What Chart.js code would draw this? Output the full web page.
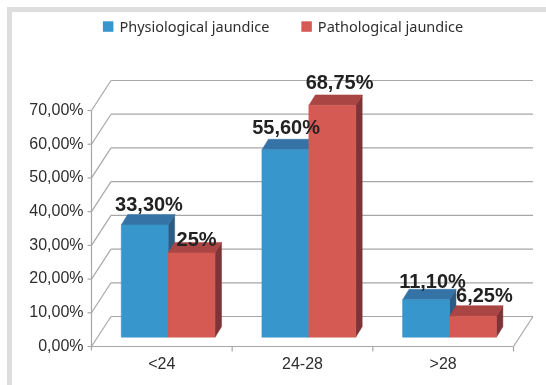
<!DOCTYPE html>
<html>
<head>
<meta charset="utf-8">
<script src="https://cdn.jsdelivr.net/npm/chart.js@4.4.1/dist/chart.umd.min.js"></script>
<style>
  html, body { margin: 0; padding: 0; background: #ffffff; }
  #c { display: block; }
</style>
</head>
<body>
<canvas id="c" width="546" height="385"></canvas>
<script>
// Jaundice type by gestational age group
const categories = ['<24', '24-28', '>28'];
const seriesNames = ['Physiological jaundice', 'Pathological jaundice'];
const physiological = [33.3, 55.6, 11.1];
const pathological = [25, 68.75, 6.25];
const physiologicalLabels = ['33,30%', '55,60%', '11,10%'];
const pathologicalLabels = ['25%', '68,75%', '6,25%'];
const yTickLabels = ['0,00%', '10,00%', '20,00%', '30,00%', '40,00%', '50,00%', '60,00%', '70,00%'];

// face colours: front, top, side
const palette = [
  { front: '#3797cd', top: '#3573a6', side: '#2c5b84' },
  { front: '#d65a54', top: '#a94543', side: '#7e3436' }
];

// oblique projection of the box: full depth of the walls, bar plane offset, bar depth
const DEPTH = { dx: 19.5, dy: -30 };
const BAR_SHIFT = { dx: 6.3, dy: -9.3 };
const BAR_DEPTH = { dx: 6.5, dy: -10.5 };
const GRID = '#a7a7a7';
const LEGEND_CX = 283;

// small per-label position tweaks [dx, dy]
const labelNudge = [
  [[-0.7, -1], [-4.3, -3], [1.5, 1.3]],
  [[0, 6], [2.3, -3], [6.5, -1]]
];

const box3d = {
  id: 'box3d',
  beforeDraw(chart) {
    const ctx = chart.ctx;
    ctx.save();
    ctx.fillStyle = '#ffffff';
    ctx.fillRect(0, 0, chart.width, chart.height);
    ctx.fillStyle = '#dedede';
    ctx.fillRect(7, 7, chart.width - 7, 5);
    ctx.fillRect(7, 7, 5, chart.height - 7);
    ctx.restore();
  },
  beforeDatasetsDraw(chart) {
    const ctx = chart.ctx;
    const { left: L, right: R, top: T, bottom: B } = chart.chartArea;
    const ys = chart.scales.y;
    const xs = chart.scales.x;
    ctx.save();
    ctx.strokeStyle = GRID;
    ctx.lineWidth = 1.2;
    const line = (x1, y1, x2, y2) => {
      ctx.beginPath(); ctx.moveTo(x1, y1); ctx.lineTo(x2, y2); ctx.stroke();
    };
    // back wall gridlines and left wall diagonals
    ys.ticks.forEach(t => {
      const yf = ys.getPixelForValue(t.value);
      line(L + DEPTH.dx, yf + DEPTH.dy, R + DEPTH.dx, yf + DEPTH.dy);
      line(L, yf, L + DEPTH.dx, yf + DEPTH.dy);
      line(L - 4, yf, L, yf);
    });
    // floor edges
    line(L, B, R, B);
    line(R, B, R + DEPTH.dx, B + DEPTH.dy);
    // front value axis
    line(L, T, L, B + 4);
    // category boundary ticks
    const n = categories.length;
    for (let i = 1; i <= n; i++) {
      const xb = i < n ? (xs.getPixelForValue(i - 1) + xs.getPixelForValue(i)) / 2 : R;
      line(xb, B, xb, B + 5);
    }
    // bars, left to right
    for (let i = 0; i < n; i++) {
      chart.data.datasets.forEach((ds, d) => {
        const el = chart.getDatasetMeta(d).data[i];
        const c = palette[d];
        const x0 = el.x - el.width / 2 + BAR_SHIFT.dx;
        const x1 = el.x + el.width / 2 + BAR_SHIFT.dx;
        const y0 = el.y + BAR_SHIFT.dy;
        const y1 = el.base + BAR_SHIFT.dy;
        const poly = (pts, col) => {
          ctx.beginPath();
          ctx.moveTo(pts[0][0], pts[0][1]);
          pts.slice(1).forEach(p => ctx.lineTo(p[0], p[1]));
          ctx.closePath();
          ctx.fillStyle = col; ctx.strokeStyle = col; ctx.lineWidth = 0.5;
          ctx.fill(); ctx.stroke();
        };
        poly([[x1, y0], [x1 + BAR_DEPTH.dx, y0 + BAR_DEPTH.dy], [x1 + BAR_DEPTH.dx, y1 + BAR_DEPTH.dy], [x1, y1]], c.side);
        poly([[x0, y0], [x0 + BAR_DEPTH.dx, y0 + BAR_DEPTH.dy], [x1 + BAR_DEPTH.dx, y0 + BAR_DEPTH.dy], [x1, y0]], c.top);
        poly([[x0, y0], [x1, y0], [x1, y1], [x0, y1]], c.front);
      });
    }
    ctx.restore();
    return false;
  },
  afterDraw(chart) {
    const ctx = chart.ctx;
    ctx.save();
    // value labels above the bars
    const texts = [physiologicalLabels, pathologicalLabels];
    ctx.font = 'bold 20px "Liberation Sans", Arial, sans-serif';
    ctx.fillStyle = '#222222';
    ctx.textAlign = 'center';
    ctx.textBaseline = 'alphabetic';
    chart.data.datasets.forEach((ds, d) => {
      chart.getDatasetMeta(d).data.forEach((el, i) => {
        const [nx, ny] = labelNudge[d][i];
        ctx.fillText(texts[d][i], el.x + BAR_SHIFT.dx + 5 + nx, el.y + BAR_SHIFT.dy - 13 + ny);
      });
    });
    // legend
    ctx.font = '14.5px "Noto Sans", sans-serif';
    ctx.textAlign = 'left';
    const boxW = 10.5, textGap = 6, itemGap = 32;
    const items = chart.data.datasets.map(ds => ({ text: ds.label, color: ds.backgroundColor, w: ctx.measureText(ds.label).width }));
    const total = items.reduce((s, it) => s + boxW + textGap + it.w, 0) + itemGap * (items.length - 1);
    let x = LEGEND_CX - total / 2;
    items.forEach(it => {
      ctx.fillStyle = it.color;
      ctx.fillRect(x, 21.3, boxW, 10.5);
      ctx.fillStyle = '#2e2e2e';
      ctx.fillText(it.text, x + boxW + textGap, 32);
      x += boxW + textGap + it.w + itemGap;
    });
    ctx.restore();
  }
};

new Chart(document.getElementById('c'), {
  type: 'bar',
  data: {
    labels: categories,
    datasets: [
      { label: seriesNames[0], data: physiological, backgroundColor: palette[0].front },
      { label: seriesNames[1], data: pathological, backgroundColor: palette[1].front }
    ]
  },
  options: {
    responsive: false,
    animation: false,
    events: [],
    layout: { padding: { top: 110.5, left: 0, right: 32.5, bottom: 0 } },
    datasets: { bar: { categoryPercentage: 2 / 3, barPercentage: 1 } },
    plugins: { legend: { display: false }, tooltip: { enabled: false } },
    scales: {
      x: {
        grid: { display: false, drawTicks: false },
        border: { display: false },
        ticks: { font: { family: '"Liberation Sans", Arial, sans-serif', size: 16 }, color: '#2e2e2e', padding: 8.5 },
        afterFit(s) { s.height = 38.5; }
      },
      y: {
        min: 0,
        max: 70,
        grid: { display: false, drawTicks: false },
        border: { display: false },
        ticks: {
          stepSize: 10,
          font: { family: '"Liberation Sans", Arial, sans-serif', size: 16 },
          color: '#2e2e2e',
          padding: 8,
          callback: (v, i) => yTickLabels[i]
        },
        afterFit(s) { s.width = 91.5; }
      }
    }
  },
  plugins: [box3d]
});
</script>
</body>
</html>
